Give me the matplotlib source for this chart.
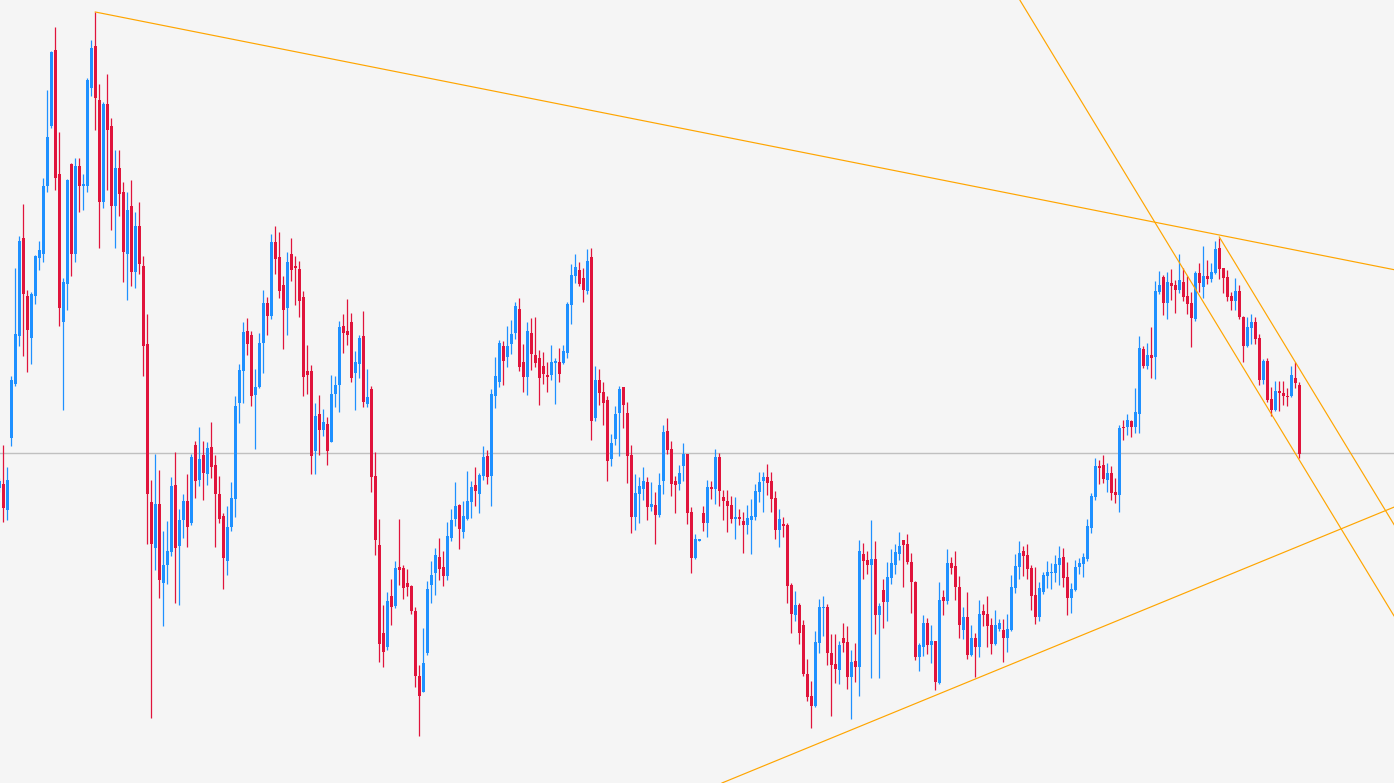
import numpy as np
import matplotlib
matplotlib.use('Agg')
import matplotlib.pyplot as plt

# OHLC, one value per bar, bar index starts at -1 (first bar is cut by the left edge)
opens = [312, 316, 290, 362, 416, 464, 562, 504, 462, 504, 542, 546, 614, 674, 750, 626, 478, 516, 636, 546,
         634, 614, 614, 712, 754, 700, 598, 696, 674, 594, 632, 608, 546, 594, 528, 574, 534, 456, 298, 252,
         296, 217, 235, 248, 315, 254, 280, 299, 277, 355, 320, 345, 326, 353, 335, 306, 284, 239, 273, 301,
         397, 429, 469, 465, 405, 413, 457, 497, 484, 558, 543, 515, 492, 546, 534, 531, 503, 429, 429, 349,
         386, 370, 376, 358, 406, 415, 474, 469, 478, 427, 436, 464, 396, 411, 324, 255, 167, 153, 204, 194,
         233, 232, 217, 214, 189, 124, 108, 147, 215, 227, 243, 233, 224, 262, 281, 295, 268, 281, 298, 315,
         306, 324, 344, 324, 404, 418, 454, 443, 456, 467, 491, 438, 423, 467, 445, 442, 434, 425, 425, 437,
         438, 437, 447, 495, 524, 530, 522, 509, 543, 382, 420, 408, 400, 341, 361, 387, 413, 387, 345, 283,
         306, 311, 318, 293, 295, 285, 319, 369, 351, 319, 316, 334, 346, 288, 242, 259, 287, 277, 313, 311,
         343, 303, 299, 295, 281, 283, 279, 275, 280, 283, 308, 319, 323, 319, 302, 270, 276, 275, 215, 185,
         195, 175, 126, 104, 94, 157, 192, 193, 147, 136, 130, 162, 158, 123, 139, 133, 246, 240, 235, 241,
         185, 210, 198, 222, 235, 246, 260, 256, 238, 218, 143, 153, 177, 155, 159, 117, 203, 199, 237, 234,
         213, 170, 183, 145, 162, 153, 189, 186, 175, 156, 171, 170, 162, 170, 212, 233, 249, 245, 232, 205,
         183, 208, 224, 227, 227, 235, 243, 223, 202, 210, 233, 236, 241, 272, 303, 334, 335, 320, 327, 308,
         305, 373, 373, 379, 373, 386, 451, 434, 445, 443, 508, 523, 497, 517, 515, 510, 518, 504, 497, 481,
         527, 513, 524, 521, 527, 552, 532, 523, 504, 499, 509, 483, 454, 472, 478, 462, 420, 439, 401, 390,
         409, 407, 404, 404, 422, 415]
highs = [322, 355, 333, 424, 532, 564, 596, 510, 508, 545, 559, 622, 710, 749, 773, 668, 522, 621, 637, 642,
         642, 626, 722, 760, 788, 716, 698, 726, 682, 650, 650, 618, 608, 620, 588, 598, 544, 486, 320, 346,
         330, 269, 279, 323, 348, 291, 306, 326, 346, 359, 373, 359, 358, 378, 345, 324, 287, 294, 318, 404,
         436, 478, 482, 469, 431, 467, 510, 503, 566, 574, 568, 524, 548, 562, 544, 539, 509, 455, 435, 397,
         405, 391, 383, 425, 424, 479, 486, 501, 487, 449, 465, 489, 431, 414, 348, 281, 195, 208, 221, 239,
         281, 235, 231, 215, 193, 135, 172, 219, 239, 252, 262, 249, 278, 291, 318, 296, 299, 329, 319, 333,
         327, 354, 350, 411, 443, 460, 459, 474, 480, 498, 502, 456, 478, 482, 483, 450, 448, 438, 455, 442,
         452, 455, 498, 536, 546, 538, 532, 551, 552, 434, 431, 418, 404, 366, 394, 414, 413, 398, 355, 326,
         323, 333, 323, 318, 308, 327, 375, 382, 359, 324, 335, 357, 346, 293, 266, 261, 294, 320, 319, 351,
         347, 310, 310, 304, 303, 291, 288, 295, 301, 316, 328, 328, 336, 328, 309, 291, 283, 277, 217, 209,
         197, 180, 141, 119, 169, 201, 204, 196, 166, 166, 159, 177, 174, 150, 157, 260, 257, 249, 280, 259,
         197, 221, 238, 251, 256, 268, 260, 266, 247, 219, 157, 185, 182, 175, 159, 218, 210, 251, 243, 249,
         224, 193, 208, 175, 167, 200, 196, 204, 182, 190, 181, 181, 186, 225, 246, 259, 254, 256, 235, 233,
         218, 228, 239, 237, 245, 254, 252, 238, 217, 240, 242, 247, 281, 307, 342, 340, 345, 337, 334, 322,
         375, 380, 386, 380, 412, 464, 454, 457, 473, 519, 529, 525, 528, 531, 520, 546, 532, 524, 508, 529,
         537, 554, 540, 537, 559, 562, 532, 530, 508, 522, 515, 484, 483, 486, 483, 466, 441, 442, 413, 419,
         419, 419, 412, 434, 438, 418]
lows = [308, 278, 280, 354, 414, 454, 444, 428, 436, 496, 530, 538, 608, 672, 610, 474, 390, 490, 524, 538,
        588, 590, 608, 704, 670, 552, 592, 610, 570, 552, 584, 518, 500, 514, 512, 526, 424, 256, 82, 230,
        202, 174, 216, 244, 197, 195, 262, 253, 275, 302, 314, 300, 315, 322, 253, 277, 211, 225, 269, 283,
        377, 397, 445, 394, 351, 412, 427, 465, 481, 526, 502, 451, 465, 519, 495, 483, 404, 406, 326, 326,
        345, 364, 335, 358, 393, 388, 447, 455, 418, 390, 422, 393, 393, 308, 245, 138, 133, 150, 175, 192,
        215, 201, 204, 186, 113, 64, 108, 145, 197, 205, 220, 214, 220, 259, 274, 251, 262, 280, 282, 294,
        287, 320, 316, 294, 392, 413, 415, 433, 446, 461, 429, 408, 405, 430, 433, 395, 416, 408, 420, 396,
        418, 436, 442, 476, 517, 514, 498, 506, 360, 379, 395, 375, 319, 334, 355, 344, 372, 317, 267, 270,
        277, 300, 280, 289, 256, 283, 306, 346, 304, 287, 310, 319, 276, 227, 241, 259, 269, 263, 301, 296,
        294, 280, 268, 277, 261, 275, 247, 266, 246, 280, 298, 288, 305, 288, 261, 253, 263, 197, 167, 179,
        156, 124, 99, 72, 93, 147, 164, 135, 84, 117, 116, 148, 111, 81, 118, 104, 221, 226, 122, 166,
        122, 172, 179, 216, 226, 240, 213, 236, 187, 140, 129, 144, 146, 137, 110, 116, 185, 196, 226, 200,
        162, 161, 141, 144, 123, 143, 174, 153, 146, 155, 169, 138, 148, 169, 207, 221, 224, 221, 190, 176,
        179, 206, 212, 211, 218, 215, 213, 185, 187, 209, 226, 223, 239, 267, 300, 316, 317, 308, 300, 297,
        288, 360, 365, 363, 367, 367, 432, 431, 422, 421, 506, 485, 481, 500, 487, 507, 499, 486, 453, 479,
        508, 502, 516, 518, 526, 521, 507, 499, 490, 490, 481, 438, 453, 456, 456, 415, 416, 398, 384, 389,
        389, 395, 394, 403, 412, 342]
closes = [319, 292, 320, 420, 466, 559, 506, 470, 506, 544, 550, 614, 663, 748, 622, 492, 518, 620, 546, 634,
          614, 616, 720, 752, 702, 598, 696, 670, 594, 632, 606, 548, 590, 528, 574, 536, 454, 306, 256, 296,
          220, 235, 249, 314, 252, 280, 299, 273, 343, 319, 341, 327, 352, 333, 306, 281, 242, 273, 302, 394,
          430, 468, 456, 404, 413, 457, 497, 484, 558, 541, 509, 490, 538, 530, 532, 499, 423, 425, 344, 384,
          370, 378, 349, 406, 415, 473, 467, 465, 422, 438, 462, 398, 403, 323, 260, 156, 148, 199, 193, 232,
          230, 212, 213, 189, 124, 104, 137, 211, 225, 245, 231, 224, 264, 280, 294, 271, 284, 299, 313, 309,
          325, 343, 323, 406, 424, 457, 439, 454, 466, 494, 433, 423, 469, 446, 437, 422, 426, 423, 438, 439,
          426, 449, 496, 525, 533, 516, 510, 539, 379, 420, 407, 397, 339, 357, 386, 411, 395, 344, 283, 307,
          314, 319, 293, 296, 285, 315, 368, 350, 316, 315, 327, 346, 287, 242, 261, 261, 277, 313, 311, 343,
          309, 299, 294, 281, 283, 281, 275, 282, 284, 309, 318, 323, 317, 301, 270, 281, 274, 214, 186, 195,
          167, 126, 103, 94, 158, 193, 193, 147, 135, 131, 155, 157, 123, 138, 133, 249, 239, 235, 241, 185,
          194, 198, 223, 237, 248, 254, 255, 238, 218, 143, 155, 177, 155, 159, 118, 200, 199, 237, 232, 213,
          175, 183, 145, 162, 153, 186, 185, 174, 156, 175, 177, 162, 171, 213, 234, 247, 244, 231, 204, 183,
          212, 225, 228, 228, 236, 242, 222, 202, 211, 233, 237, 243, 274, 304, 334, 332, 321, 327, 307, 305,
          372, 372, 380, 373, 388, 452, 434, 445, 442, 509, 515, 497, 518, 514, 510, 520, 503, 496, 482, 527,
          517, 524, 521, 528, 551, 531, 522, 503, 499, 509, 483, 454, 473, 478, 461, 420, 439, 400, 390, 409,
          407, 404, 403, 425, 417, 346]

level = 347  # horizontal reference level

# trend lines: anchor points (bar index, price)
top_line = [(23, 788), (304, 565)]
channel_low = [(288, 577), (324, 340)]
channel_high_start = (304, 563)
support_line = [(243, 121), (324, 254)]

up_col = '#1e90ff'
down_col = '#e0143c'
line_col = '#ffa500'
bg = '#f5f5f5'

o = np.array(opens, dtype=float)
h = np.array(highs, dtype=float)
l = np.array(lows, dtype=float)
c = np.array(closes, dtype=float)
idx = np.arange(-1, len(o) - 1)

fig = plt.figure(figsize=(13.94, 7.83), dpi=100, facecolor=bg)
ax = fig.add_axes([0, 0, 1, 1])
ax.set_facecolor(bg)

ax.axhline(level, color='#c0c0c0', lw=1.0, zorder=1)

cols = np.where(c >= o, up_col, down_col)
ax.vlines(idx, l, h, colors=cols, lw=0.9, zorder=2)
body_lo = np.minimum(o, c)
body_h = np.maximum(np.abs(c - o), 1.0)
ax.bar(idx, body_h, bottom=body_lo, width=0.75, color=cols, linewidth=0, zorder=3)

# trend lines
far = 500
lw_t = 0.85
(x1, y1), (x2, y2) = top_line
s = (y2 - y1) / (x2 - x1)
ax.plot([x1, far], [y1, y1 + s * (far - x1)], color=line_col, lw=lw_t, zorder=4)

(x1, y1), (x2, y2) = channel_low
s2 = (y2 - y1) / (x2 - x1)
ax.axline((x1, y1), (x2, y2), color=line_col, lw=lw_t, zorder=4)
xs, ys = channel_high_start
ax.plot([xs, far], [ys, ys + s2 * (far - xs)], color=line_col, lw=lw_t, zorder=4)

ax.axline(support_line[0], support_line[1], color=line_col, lw=lw_t, zorder=4)

ax.set_xlim(-0.825, 347.675)
ax.set_ylim(17, 800)
ax.axis('off')

fig.savefig('out.png', dpi=100, facecolor=bg)
